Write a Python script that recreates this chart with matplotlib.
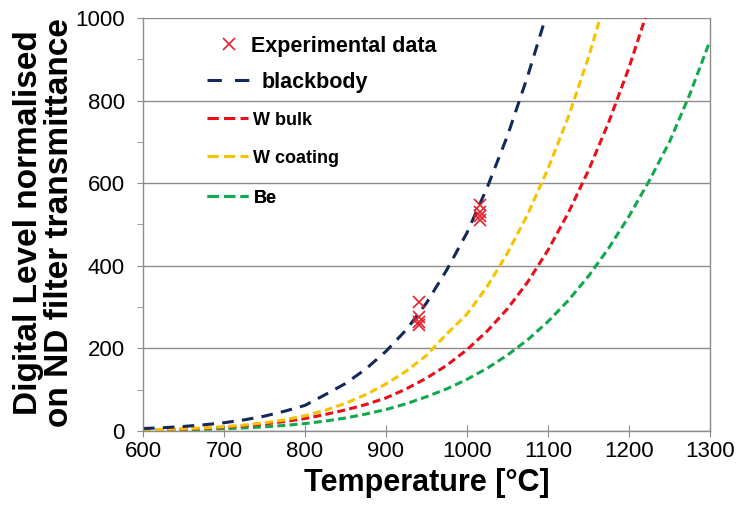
import matplotlib
matplotlib.use("Agg")
import matplotlib.pyplot as plt
from matplotlib.lines import Line2D
from matplotlib.ticker import MultipleLocator

plt.rcParams["font.family"] = ["Liberation Sans", "DejaVu Sans"]

# Model curves: temperature (°C) vs normalised digital level
temps = [600, 625, 650, 675, 700, 725, 750, 775, 800, 825, 850, 875, 900, 925,
         950, 975, 1000, 1025, 1050, 1075, 1100, 1125, 1150, 1175, 1200, 1225,
         1250, 1275, 1300]

blackbody = [6, 8, 11, 15, 20, 27, 36, 48, 62, 88, 115, 150, 193, 245,
             310, 390, 480, 590, 715, 860, 1020, None, None, None, None, None,
             None, None, None]
w_coating = [3, 4, 5.5, 7.5, 10.5, 14.5, 20, 27, 37, 50, 67, 88, 114, 145,
             183, 235, 283, 350, 431, 525, 635, 760, 905, 1070, None, None,
             None, None, None]
w_bulk = [2.3, 3.2, 4.5, 6.5, 9, 12.5, 17, 23, 30, 40, 51, 64, 80, 102,
          128, 159, 197, 242, 296, 361, 438, 528, 631, 748, 880, 1030,
          None, None, None]
be = [1.6, 2.2, 3, 4, 5.5, 7.5, 10, 13.5, 18, 24, 31.5, 41, 52, 66,
      83, 102, 125, 152, 184, 221, 265, 316, 375, 443, 520, 606,
      700, 815, 945]

# Experimental measurements
exp_temp = [941, 941, 941, 941, 1016, 1016, 1016, 1016]
exp_level = [313, 275, 265, 257, 548, 530, 520, 510]

NAVY = "#13295A"
RED = "#E8101A"
YELLOW = "#F7C200"
GREEN = "#12A84E"
MARK = "#E3222B"


def trim(xs, ys):
    pairs = [(x, y) for x, y in zip(xs, ys) if y is not None]
    return [p[0] for p in pairs], [p[1] for p in pairs]


fig = plt.figure(figsize=(7.44, 5.12), dpi=100)
ax = fig.add_axes([143 / 744, 81 / 512, 567 / 744, 413 / 512])

lw = 2.2
ax.plot(*trim(temps, be), color=GREEN, lw=lw, dashes=(2.6, 1.4))
ax.plot(*trim(temps, w_bulk), color=RED, lw=lw, dashes=(2.6, 1.4))
ax.plot(*trim(temps, w_coating), color=YELLOW, lw=lw, dashes=(2.6, 1.4))
ax.plot(*trim(temps, blackbody), color=NAVY, lw=lw, dashes=(3.8, 2.7))
ax.plot(exp_temp, exp_level, ls="none", marker="x", ms=8, mew=1.2,
        color=MARK, zorder=5)

ax.set_xlim(600, 1300)
ax.set_ylim(0, 1000)
ax.xaxis.set_major_locator(MultipleLocator(100))
ax.yaxis.set_major_locator(MultipleLocator(200))
ax.yaxis.set_minor_locator(MultipleLocator(100))

ax.yaxis.grid(True, which="major", color="#8c8c8c", lw=1.0)
ax.set_axisbelow(True)

for side in ("left", "bottom", "right"):
    ax.spines[side].set_color("#8c8c8c")
    ax.spines[side].set_linewidth(1.0)
ax.spines["top"].set_visible(False)

ax.tick_params(axis="y", which="major", direction="out", length=4,
               color="#8c8c8c", labelsize=16, pad=9)
ax.tick_params(axis="y", which="minor", direction="out", length=4,
               color="#8c8c8c")
ax.tick_params(axis="x", which="major", direction="inout", length=9,
               color="#8c8c8c", labelsize=16, pad=3)

ax.set_xlabel("Temperature [°C]", fontsize=22, fontweight="bold", labelpad=4)
fig.text(44 / 744, 0.565, "Digital Level normalised\non ND filter transmittance",
         rotation=90, ha="center", va="center", multialignment="center",
         fontsize=24, fontweight="bold", linespacing=1.0)

# Legend entries, each placed individually
entries = [
    (Line2D([], [], ls="none", marker="x", ms=8, mew=1.2, color=MARK),
     "Experimental data", 15.5, 0.134, 0.932, 0.93, 0.56),
    (Line2D([], [], color=NAVY, lw=lw, dashes=(4.7, 4.3)),
     "blackbody", 15.5, 0.113, 0.845, 1.95, 0.6),
    (Line2D([], [], color=RED, lw=lw, dashes=(3.7, 1.7)),
     "W bulk", 13, 0.113, 0.753, 2.28, 0.28),
    (Line2D([], [], color=YELLOW, lw=lw, dashes=(3.7, 1.7)),
     "W coating", 13, 0.113, 0.661, 2.28, 0.28),
    (Line2D([], [], color=GREEN, lw=lw, dashes=(3.7, 1.7)),
     "Be", 13, 0.113, 0.564, 2.28, 0.28),
]
for handle, label, size, x, y, hl, pad in entries:
    leg = ax.legend(handles=[handle], labels=[label], loc="center left",
                    bbox_to_anchor=(x, y), frameon=False, borderpad=0,
                    borderaxespad=0, handlelength=hl, handletextpad=pad,
                    prop={"size": size, "weight": "bold"})
    ax.add_artist(leg)

fig.savefig("out.png", dpi=100, facecolor="white")
